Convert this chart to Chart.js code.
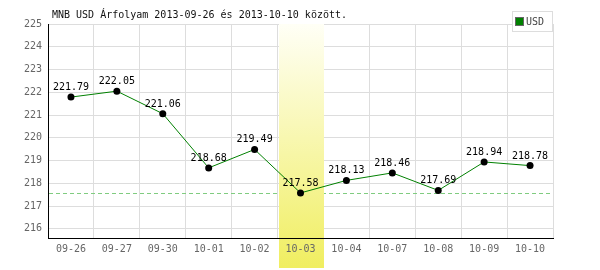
<!DOCTYPE html>
<html>
<head>
<meta charset="utf-8">
<script src="https://cdn.jsdelivr.net/npm/chart.js@4"></script>
<style>
  html, body { margin: 0; padding: 0; background: #fff; }
  #wrap { width: 600px; height: 270px; }
</style>
</head>
<body>
<div id="wrap"><canvas id="c" width="600" height="270"></canvas></div>
<script>
// MNB USD exchange rate, 2013-09-26 .. 2013-10-10
const days = ["09-26", "09-27", "09-30", "10-01", "10-02", "10-03", "10-04", "10-07", "10-08", "10-09", "10-10"];
const usd = [221.79, 222.05, 221.06, 218.68, 219.49, 217.58, 218.13, 218.46, 217.69, 218.94, 218.78];
const yTicks = [216, 217, 218, 219, 220, 221, 222, 223, 224, 225];
const highlightDay = "10-03";
const title = "MNB USD Árfolyam 2013-09-26 és 2013-10-10 között.";

const FONT = "'DejaVu Sans Mono', monospace";

// yellow column, min line, value labels, title and legend box
const extras = {
  id: "extras",
  beforeDatasetsDraw(chart) {
    const { ctx, chartArea: a, scales: { x, y } } = chart;
    // dashed line at the lowest value
    const yMin = y.getPixelForValue(Math.min(...usd));
    ctx.save();
    ctx.strokeStyle = "#80cc80";
    ctx.lineWidth = 1;
    ctx.setLineDash([4, 3]);
    ctx.beginPath();
    ctx.moveTo(a.left + 1, Math.round(yMin) + 0.5);
    ctx.lineTo(a.right, Math.round(yMin) + 0.5);
    ctx.stroke();
    ctx.restore();

    // highlighted day
    const i = days.indexOf(highlightDay);
    const half = (x.getPixelForValue(1) - x.getPixelForValue(0)) / 2;
    const cx = x.getPixelForValue(i);
    const g = ctx.createLinearGradient(0, a.top, 0, 268);
    g.addColorStop(0, "#fffff6");
    g.addColorStop(1, "#f0ee60");
    ctx.save();
    ctx.fillStyle = g;
    ctx.fillRect(Math.round(cx - half) + 1, a.top, Math.round(2 * half) - 1, 268 - a.top);
    ctx.restore();
  },
  afterDatasetsDraw(chart) {
    const { ctx, scales: { x, y } } = chart;
    ctx.save();
    ctx.font = "10px " + FONT;
    ctx.fillStyle = "#000";
    ctx.textAlign = "center";
    ctx.textBaseline = "alphabetic";
    usd.forEach((v, i) => {
      ctx.fillText(v.toFixed(2), x.getPixelForValue(i), y.getPixelForValue(v) - 7);
    });
    // title
    ctx.textAlign = "left";
    ctx.textBaseline = "middle";
    ctx.fillStyle = "#111";
    ctx.fillText(title, 52, 15);
    // legend
    ctx.strokeStyle = "#dddddd";
    ctx.lineWidth = 1;
    ctx.fillStyle = "#fff";
    ctx.fillRect(512, 11, 40, 20);
    ctx.strokeRect(512.5, 11.5, 40, 20);
    ctx.fillStyle = "#008000";
    ctx.fillRect(516, 18, 7, 7);
    ctx.strokeStyle = "#666";
    ctx.strokeRect(515.5, 17.5, 8, 8);
    ctx.fillStyle = "#444";
    ctx.fillText("USD", 526, 22);
    ctx.restore();
  },
};

new Chart(document.getElementById("c"), {
  type: "line",
  data: {
    labels: days,
    datasets: [{
      data: usd,
      borderColor: "#008000",
      borderWidth: 1,
      tension: 0,
      pointRadius: 3.5,
      pointBackgroundColor: "#000",
      pointBorderColor: "#000",
      pointBorderWidth: 0,
    }],
  },
  options: {
    responsive: false,
    animation: false,
    events: [],
    layout: { padding: { top: 24, right: 47, left: 0, bottom: 0 } },
    plugins: { legend: { display: false }, tooltip: { enabled: false }, title: { display: false } },
    scales: {
      x: {
        offset: true,
        grid: { offset: true, color: "#dddddd", drawTicks: false },
        border: { color: "#000", width: 1, z: 1 },
        ticks: { z: 1, color: "#666", font: { family: FONT, size: 10 }, padding: 5, maxRotation: 0, autoSkip: false },
        afterFit(s) { s.height = 32; },
      },
      y: {
        min: 215.6,
        max: 225,
        afterBuildTicks(s) { s.ticks = yTicks.map((v) => ({ value: v })); },
        grid: { color: "#dddddd", drawTicks: false },
        border: { color: "#000", width: 1 },
        ticks: { color: "#666", font: { family: FONT, size: 10 }, padding: 6 },
        afterFit(s) { s.width = 48; },
      },
    },
  },
  plugins: [extras],
});
</script>
</body>
</html>
